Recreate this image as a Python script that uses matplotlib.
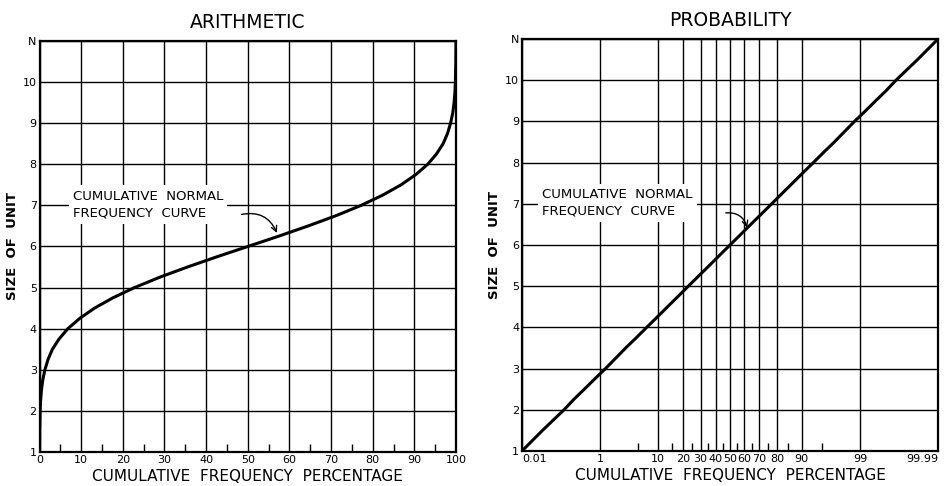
import numpy as np
import matplotlib
matplotlib.use("Agg")
import matplotlib.pyplot as plt
from matplotlib.ticker import FixedLocator, FixedFormatter
from statistics import NormalDist

# ---- data ----
size_levels = [1, 1.5, 2, 2.25, 2.5, 2.75, 3, 3.25, 3.5, 3.75, 4, 4.25, 4.5, 4.75,
               5, 5.25, 5.5, 5.75, 6, 6.25, 6.5, 6.75, 7, 7.25, 7.5, 7.75,
               8, 8.25, 8.5, 8.75, 9, 9.25, 9.5, 9.75, 10, 10.5, 11]
cum_pct = [0.01, 0.04, 0.15, 0.26, 0.46, 0.78, 1.3, 2.04, 3.1, 4.7, 6.8, 9.65, 13.2, 17.6,
           22.8, 28.8, 35.5, 42.6, 50.0, 57.4, 64.5, 71.2, 77.2, 82.4, 86.8, 90.35,
           93.2, 95.3, 96.9, 97.96, 98.7, 99.22, 99.54, 99.74, 99.85, 99.96, 99.99]

y_ticks = [1, 2, 3, 4, 5, 6, 7, 8, 9, 10, 11]
y_labels = ["1", "2", "3", "4", "5", "6", "7", "8", "9", "10", "N"]

arith_ticks = [0, 10, 20, 30, 40, 50, 60, 70, 80, 90, 100]
arith_minor = [5, 15, 25, 35, 45, 55, 65, 75, 85, 95]

prob_ticks = [0.01, 1, 10, 20, 30, 40, 50, 60, 70, 80, 90, 99, 99.99]
prob_labels = ["0.01", "1", "10", "20", "30", "40", "50", "60", "70", "80", "90", "99", "99.99"]
prob_minor = [5, 15, 25, 35, 45, 55, 65, 75, 85, 95]

nd = NormalDist()


def fwd(p):
    p = np.clip(np.asarray(p, dtype=float), 1e-7, 100 - 1e-7)
    return np.vectorize(lambda v: nd.inv_cdf(v / 100.0), otypes=[float])(p)


def inv(z):
    z = np.asarray(z, dtype=float)
    return np.vectorize(lambda v: nd.cdf(v) * 100.0, otypes=[float])(z)


fig = plt.figure(figsize=(9.46, 4.86), dpi=100)
W, H = 946, 486
ax1 = fig.add_axes([39.5 / W, 1 - 452 / H, 416.5 / W, 411 / H])
ax2 = fig.add_axes([522 / W, 1 - 451 / H, 416 / W, 412 / H])

for ax in (ax1, ax2):
    ax.set_ylim(1, 11)
    ax.set_yticks(y_ticks)
    ax.set_yticklabels(y_labels, fontsize=8)
    ax.grid(True, which="major", color="black", linewidth=1.0)
    ax.tick_params(axis="both", which="major", length=0, pad=2)
    ax.tick_params(axis="x", which="minor", direction="in", length=6,
                   width=1.0, bottom=True, top=False)
    for s in ax.spines.values():
        s.set_linewidth(1.6)
    ax.set_ylabel("SIZE  OF  UNIT", fontsize=9.5, fontweight="bold", labelpad=3)
    ax.set_xlabel("CUMULATIVE  FREQUENCY  PERCENTAGE", fontsize=11, labelpad=3)
    ax.set_axisbelow(True)

# Arithmetic chart
ax1.set_xlim(0, 100)
ax1.set_xticks(arith_ticks)
ax1.set_xticklabels([str(t) for t in arith_ticks], fontsize=8)
ax1.xaxis.set_minor_locator(FixedLocator(arith_minor))
ax1.plot(cum_pct, size_levels, color="black", linewidth=2.2, zorder=3)
ax1.set_title("ARITHMETIC", fontsize=13.5, pad=9)
ax1.text(8, 7.02, "CUMULATIVE  NORMAL\nFREQUENCY  CURVE", fontsize=9.5,
         ha="left", va="center", linespacing=1.4,
         bbox=dict(facecolor="white", edgecolor="none", pad=3), zorder=4)
ax1.annotate("", xy=(57, 6.33), xytext=(48.5, 6.78),
             arrowprops=dict(arrowstyle="->", color="black", lw=1.0,
                             shrinkA=0, shrinkB=0,
                             connectionstyle="arc3,rad=-0.4"), zorder=5)

# Probability chart
ax2.set_xscale("function", functions=(fwd, inv))
ax2.set_xlim(0.01, 99.99)
ax2.xaxis.set_major_locator(FixedLocator(prob_ticks))
ax2.xaxis.set_major_formatter(FixedFormatter(prob_labels))
ax2.xaxis.set_minor_locator(FixedLocator(prob_minor))
ax2.xaxis.set_minor_formatter(FixedFormatter([""] * len(prob_minor)))
xl = ax2.get_xticklabels()
for lbl in xl:
    lbl.set_fontsize(8)
xl[0].set_ha("left")
xl[-1].set_ha("right")
ax2.plot(cum_pct, size_levels, color="black", linewidth=2.2, zorder=3)
ax2.set_title("PROBABILITY", fontsize=13.5, pad=9)
ax2.text(0.04, 7.02, "CUMULATIVE  NORMAL\nFREQUENCY  CURVE", fontsize=9.5,
         ha="left", va="center", linespacing=1.4,
         bbox=dict(facecolor="white", edgecolor="none", pad=3), zorder=4)
ax2.annotate("", xy=(62, 6.42), xytext=(47, 6.78),
             arrowprops=dict(arrowstyle="->", color="black", lw=1.0,
                             shrinkA=0, shrinkB=0,
                             connectionstyle="arc3,rad=-0.4"), zorder=5)

fig.savefig("out.png", dpi=100)
